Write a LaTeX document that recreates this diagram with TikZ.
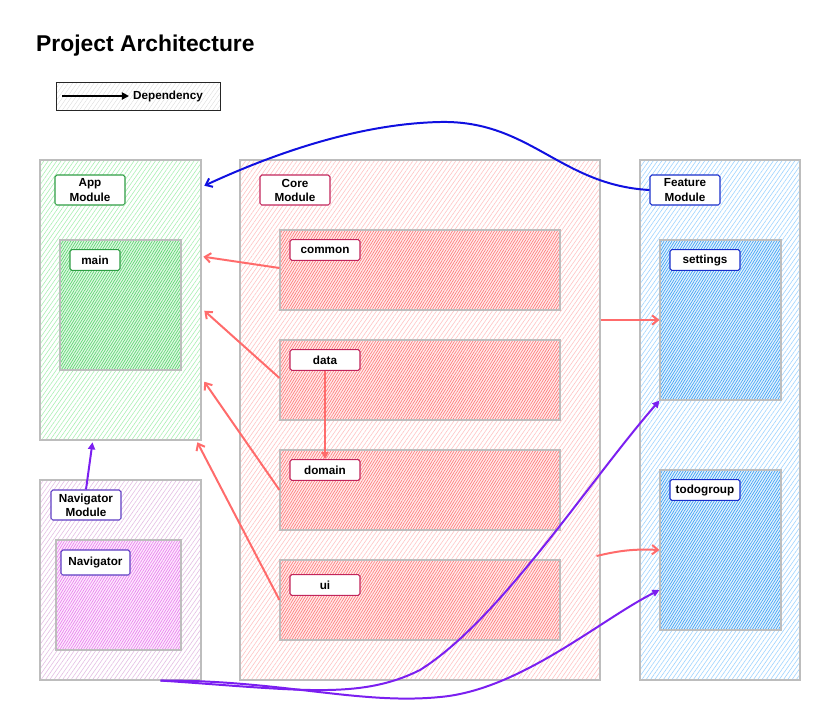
\documentclass[tikz,border=0pt]{standalone}
\usepackage{fontspec}
\setmainfont{Liberation Sans}
\usepackage{tikz}
\usetikzlibrary{arrows.meta}
\usetikzlibrary{patterns.meta}
\usetikzlibrary{calc}
\definecolor{boxgray}{HTML}{BDBDBD}
\definecolor{appline}{HTML}{2F9E44}
\definecolor{coreline}{HTML}{C2255C}
\definecolor{navline}{HTML}{5F3DC4}
\definecolor{featline}{HTML}{1A2FCC}
\definecolor{apphatch}{HTML}{A8EFB2}
\definecolor{mainhatch}{HTML}{5FD872}
\definecolor{navhatch}{HTML}{E3BDE3}
\definecolor{navinhatch}{HTML}{EC80F0}
\definecolor{corehatch}{HTML}{FFC2C2}
\definecolor{coreinhatch}{HTML}{FF7F7F}
\definecolor{feathatch}{HTML}{9DD3FF}
\definecolor{featinhatch}{HTML}{45A5F5}
\definecolor{redarrow}{HTML}{FF6B6B}
\definecolor{bluearrow}{HTML}{1010E0}
\definecolor{purplearrow}{HTML}{7B1FF0}
\tikzset{
    module/.style={draw=boxgray, line width=0.9pt, inner sep=0pt,
        pattern={Lines[angle=55,distance=3pt,line width=0.5pt]}},
    submodule/.style={draw=boxgray, line width=0.9pt, inner sep=0pt,
        pattern={Lines[angle=58,distance=1.9pt,line width=0.6pt]}},
    lbl/.style={draw, line width=0.9pt, rounded corners=1.5pt, fill=white,
        inner sep=0pt, align=center, font=\fontsize{10}{12}\selectfont\bfseries},
    bigl/.style={lbl, minimum width=2.1cm, minimum height=0.9cm},
    smalll/.style={lbl, minimum width=2.1cm, minimum height=0.62cm},
    dep/.style={line width=1.7pt, -{Straight Barb[length=5pt,width=8pt]}},
    deptri/.style={line width=1.7pt, -{Triangle[length=6pt,width=6pt]}}
}
\begin{document}
\begin{tikzpicture}[x=0.03cm, y=-0.03cm]
    \useasboundingbox (0,0) rectangle (827,720);

    % title and legend
    \node[anchor=base west, inner sep=0pt, font=\fontsize{19.5}{22}\selectfont\bfseries] (title) at (36,51) {Project Architecture};
    \node[draw=black!85, line width=0.8pt, inner sep=0pt, pattern={Lines[angle=55,distance=3pt,line width=0.3pt]}, pattern color=gray!30, minimum width=4.92cm, minimum height=0.84cm] (legend) at (138,96) {};
    \coordinate (legs) at (62,96);
    \node[anchor=west, font=\fontsize{10}{12}\selectfont\bfseries] (deptext) at (129,96) {Dependency};
    \draw[deptri] (legs) -- (deptext.west);

    % modules
    \node[module, pattern color=apphatch, minimum width=4.83cm, minimum height=8.4cm] (app) at (120.5,300) {};
    \node[module, pattern color=navhatch, minimum width=4.83cm, minimum height=6cm] (nav) at (120.5,580) {};
    \node[module, pattern color=corehatch, minimum width=10.8cm, minimum height=15.6cm] (core) at (420,420) {};
    \node[module, pattern color=feathatch, minimum width=4.8cm, minimum height=15.6cm] (feat) at (720,420) {};

    % sub modules
    \node[submodule, pattern color=mainhatch, preaction={fill=mainhatch!20}, minimum width=3.63cm, minimum height=3.9cm] (main) at (120.5,305) {};
    \node[submodule, pattern color=navinhatch, preaction={fill=navinhatch!15}, minimum width=3.75cm, minimum height=3.3cm] (navigator) at (118.5,595) {};
    \node[submodule, pattern color=coreinhatch, preaction={fill=coreinhatch!15}, minimum width=8.4cm, minimum height=2.4cm] (common) at (420,270) {};
    \node[submodule, pattern color=coreinhatch, preaction={fill=coreinhatch!15}, minimum width=8.4cm, minimum height=2.4cm] (data) at (420,380) {};
    \node[submodule, pattern color=coreinhatch, preaction={fill=coreinhatch!15}, minimum width=8.4cm, minimum height=2.4cm] (domain) at (420,490) {};
    \node[submodule, pattern color=coreinhatch, preaction={fill=coreinhatch!15}, minimum width=8.4cm, minimum height=2.4cm] (ui) at (420,600) {};
    \node[submodule, pattern color=featinhatch, preaction={fill=featinhatch!15}, minimum width=3.63cm, minimum height=4.8cm] (settings) at (720.5,320) {};
    \node[submodule, pattern color=featinhatch, preaction={fill=featinhatch!15}, minimum width=3.63cm, minimum height=4.8cm] (todogroup) at (720.5,550) {};

    % labels
    \node[bigl, draw=appline] (appl) at (90,190) {App\\Module};
    \node[bigl, draw=navline] (navl) at (86,505) {Navigator\\Module};
    \node[bigl, draw=coreline] (corel) at (295,190) {Core\\Module};
    \node[bigl, draw=featline] (featl) at (685,190) {Feature\\Module};
    \node[smalll, draw=appline, minimum width=1.5cm] (mainl) at (95,260) {main};
    \node[smalll, draw=navline, minimum width=2.07cm, minimum height=0.75cm] (navigatorl) at (95.5,562.5) {Navigator};
    \node[smalll, draw=coreline] (commonl) at (325,250) {common};
    \node[smalll, draw=coreline] (datal) at (325,360) {data};
    \node[smalll, draw=coreline] (domainl) at (325,470) {domain};
    \node[smalll, draw=coreline] (uil) at (325,585) {ui};
    \node[smalll, draw=featline] (settingsl) at (705,260) {settings};
    \node[smalll, draw=featline] (todogroupl) at (705,490) {todogroup};

    % dependencies
    \draw[dep, bluearrow] (featl.west) .. controls (560,185) and (530,120) .. (440,122)
        .. controls (350,124) and (260,160) .. ($(app.north east)+(3,26)$);
    \draw[dep, redarrow] ($(common.west)+(0,-2)$) -- ($(app.north east)+(2,97)$);
    \draw[dep, redarrow] ($(data.west)+(0,-2)$) -- ($(app.north east)+(3,151)$);
    \draw[dep, redarrow] (domain.west) -- ($(app.north east)+(3,222)$);
    \draw[dep, redarrow] (ui.west) -- ($(app.south east)+(-4,2)$);
    \draw[deptri, redarrow] (datal.south) -- (domainl.north);
    \draw[dep, redarrow] (core.east |- settings.west) -- (settings.west);
    \draw[dep, redarrow] ($(core.east |- todogroup.west)+(-4,6)$) to[bend left=8] (todogroup.west);
    \draw[deptri, purplearrow] (navl.north) -- ($(app.south)+(-28,2)$);
    \coordinate (navout) at ($(nav.south)+(40,0)$);
    \draw[deptri, purplearrow] (navout) .. controls (300,690) and (360,700) .. (420,670)
        .. controls (500,620) and (590,480) .. (settings.south west);
    \draw[deptri, purplearrow] (navout) .. controls (280,680) and (360,705) .. (440,697)
        .. controls (520,690) and (600,620) .. ($(todogroup.west)+(0,40)$);
\end{tikzpicture}
\end{document}
